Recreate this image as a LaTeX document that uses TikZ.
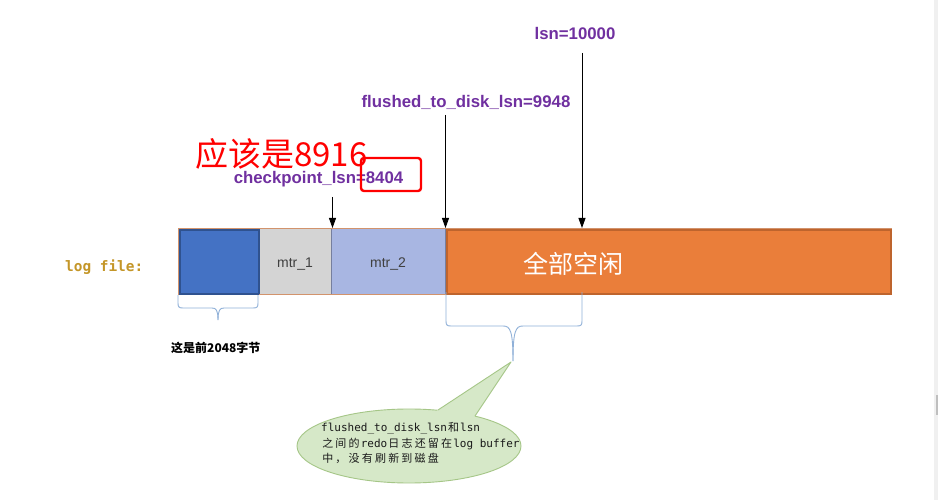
\documentclass[tikz,border=0pt]{standalone}
\usepackage{fontspec}
\setmainfont{Liberation Sans}
\newfontfamily\cjk{Noto Sans CJK SC}
\newfontfamily\monof{DejaVu Sans Mono}
\usetikzlibrary{arrows.meta}
\definecolor{lblpurple}{RGB}{112,48,160}
\definecolor{gold}{RGB}{196,150,40}
\definecolor{blueblk}{RGB}{68,114,196}
\definecolor{blueedge}{RGB}{47,82,143}
\definecolor{mtrgray}{RGB}{212,212,212}
\definecolor{mtrblue}{RGB}{168,182,226}
\definecolor{orangeblk}{RGB}{234,126,58}
\definecolor{orangeedge}{RGB}{190,100,45}
\definecolor{bracecol}{RGB}{143,176,216}
\definecolor{callfill}{RGB}{214,232,200}
\definecolor{calledge}{RGB}{165,198,135}
\def\cjloop#1{\ifx#1\relax\else\makebox[13.2pt]{\cjk #1}\expandafter\cjloop\fi}
\newcommand\cjs[1]{\cjloop#1\relax}
\begin{document}
\begin{tikzpicture}[x=1pt,y=-1pt,
  lbl/.style={text=lblpurple,font=\fontsize{16.8}{18}\selectfont\bfseries,inner sep=0pt},
  mtrtxt/.style={text=black!75,font=\fontsize{14}{16}\selectfont,inner sep=0pt},
  arr/.style={draw=black,line width=0.9pt,-{Triangle[length=10pt,width=7pt]}},
  bracepath/.style={draw=bracecol,line width=0.9pt},
  calltxt/.style={text=black!90,font=\monof\fontsize{11}{13}\selectfont,inner sep=0pt,anchor=base west}]
\useasboundingbox (0,0) rectangle (938,500);
\fill[white] (0,0) rectangle (938,500);
\fill[black!6] (934,0) rectangle (938,500);
\fill[black!25] (936,395) rectangle (938,415);

% bar
\draw[orangeedge!70,line width=0.8pt] (178,228) rectangle (891,294);
\node[draw=black!35,fill=mtrgray,line width=0.6pt,minimum width=72pt,minimum height=66pt,inner sep=0pt,anchor=north west] (m1) at (259,228) {};
\node[draw=black!30!mtrblue,fill=mtrblue,line width=0.6pt,minimum width=114pt,minimum height=66pt,inner sep=0pt,anchor=north west] (m2) at (331,228) {};
\node[draw=orangeedge,fill=orangeblk,line width=2pt,minimum width=444pt,minimum height=64pt,inner sep=0pt,anchor=north west] (free) at (446,229) {};
\node[draw=blueedge,fill=blueblk,line width=2pt,minimum width=79pt,minimum height=64pt,inner sep=0pt,anchor=north west] (hdr) at (179,229) {};
\draw[orangeedge!70,line width=0.8pt] (m1.north west) -- (m2.north east) (m1.south west) -- (m2.south east);
\node[mtrtxt,anchor=base] (t1) at (295,267) {mtr\_1};
\node[mtrtxt,anchor=base] (t2) at (388,267) {mtr\_2};
\node[text=white,font=\cjk\fontsize{25}{28}\selectfont,inner sep=0pt] (tfree) at (573,264) {全部空闲};

% left label
\node[text=gold,font=\monof\bfseries\fontsize{14.4}{16}\selectfont,inner sep=0pt,anchor=base west] (logf) at (65,271) {log file:};

% labels and arrows
\node[lbl,anchor=base] (lsn) at (575,40) {lsn=10000};
\node[lbl,anchor=base] (fl) at (466,108) {flushed\_to\_disk\_lsn=9948};
\node[lbl,anchor=base] (ck) at (318.5,184) {checkpoint\_lsn=8404};
\node[text=red,font=\cjk\fontsize{33}{35}\selectfont,inner sep=0pt,anchor=base west] (fix) at (195,167) {应该是8916};
\node[draw=red,line width=2.4pt,rounded corners=3pt,minimum width=60pt,minimum height=33pt,inner sep=0pt] (redbox) at (391,174.5) {};

\coordinate (lsnTop) at (582,53);
\coordinate (lsnPt) at (582,228);
\coordinate (flTop) at (445.5,115);
\coordinate (flPt) at (445.5,228);
\coordinate (ckTop) at (332.5,197);
\coordinate (ckPt) at (332.5,228);
\draw[arr] (lsnTop) -- (lsnPt);
\draw[arr] (flTop) -- (flPt);
\draw[arr] (ckTop) -- (ckPt);

% brace under header
\draw[bracepath] (178,295) -- (178,303) .. controls (178,307) and (179,308) .. (183,308) -- (212,308) .. controls (216,308) and (218,310) .. (218,320);
\draw[bracepath] (258,295) -- (258,303) .. controls (258,307) and (257,308) .. (253,308) -- (224,308) .. controls (220,308) and (218,310) .. (218,320);
\node[font=\cjk\bfseries\fontsize{12}{14}\selectfont,inner sep=0pt,anchor=west] (hdrtxt) at (171,348) {这是前2048字节};

% brace under buffered part
\draw[bracepath] (446,292) -- (446,321) .. controls (446,325) and (447,326) .. (451,326) -- (503,326) .. controls (510,326) and (513,330) .. (513,361);
\draw[bracepath] (582,292) -- (582,321) .. controls (582,325) and (581,326) .. (577,326) -- (523,326) .. controls (516,326) and (513,330) .. (513,361);

% callout
\coordinate (ctr) at (409,446);
\coordinate (tip) at (511,362);
\coordinate (tA) at (438,410);
\coordinate (tB) at (475,416);
\fill[callfill] (ctr) ellipse [x radius=112, y radius=37];
\draw[calledge,line width=0.9pt] (ctr) ellipse [x radius=112, y radius=37];
\fill[callfill] (432,414) -- (tip) -- (472,420.5) -- cycle;
\draw[calledge,line width=0.9pt,line join=round] (tA) -- (tip) -- (tB);
\node[calltxt] (c1) at (321,431) {flushed\_to\_disk\_lsn\cjs{和}lsn};
\node[calltxt] (c2) at (321,447) {\cjs{之间的}redo\cjs{日志还留在}log buffer};
\node[calltxt] (c3) at (321,462.5) {\cjs{中，没有刷新到磁盘}};
\end{tikzpicture}
\end{document}
